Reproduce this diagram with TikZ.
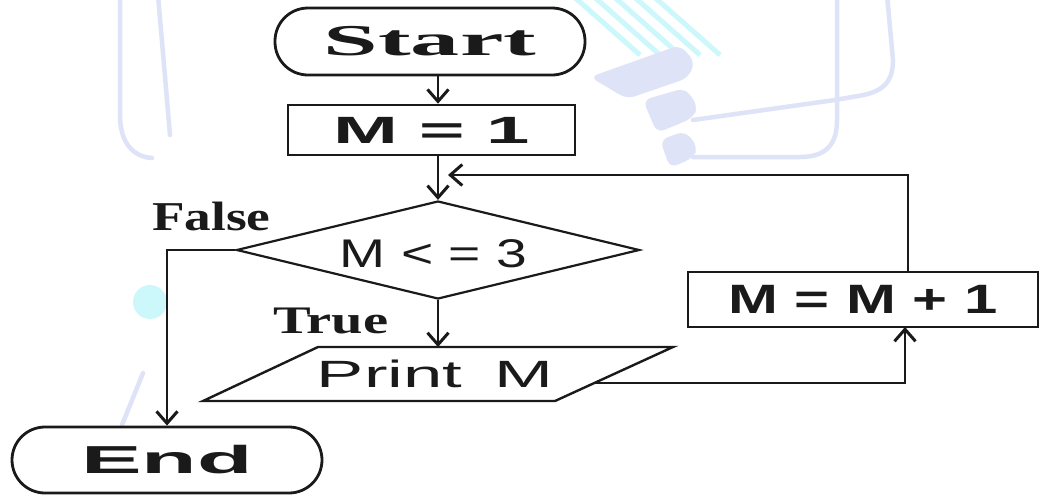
\documentclass[tikz,border=0pt]{standalone}
\usepackage{graphicx}
\usepackage{fontspec}
\setmainfont{Liberation Serif}
\setsansfont{Liberation Sans}
\usetikzlibrary{arrows.meta,shapes.geometric}
\definecolor{ink}{HTML}{1A1A1A}
\definecolor{lav}{HTML}{DFE3F7}
\definecolor{cyn}{HTML}{CDF8FB}
\newcommand{\hs}[2]{\scalebox{#1}[1]{#2}}
\begin{document}
\begin{tikzpicture}[x=1pt,y=-1pt,
  line/.style={draw=ink, line width=2.6pt},
  arr/.style={draw=ink, line width=2.6pt, -{Straight Barb[length=12pt,width=21pt,line width=3pt]}},
  pill/.style={draw=ink, line width=2.8pt, rounded corners=33pt, inner sep=0pt, text=ink},
  box/.style={draw=ink, line width=2.6pt, inner sep=0pt, text=ink},
  lbl/.style={inner sep=0pt, text=ink},
  wm/.style={draw=lav, line width=4.5pt, line cap=round}
]
\useasboundingbox (0,0) rectangle (1041,496);
\fill[white] (0,0) rectangle (1041,496);
% faint watermark
\begin{scope}
\clip (0,0) rectangle (1041,496);
\draw[wm] (120,-5) -- (120,115) .. controls (120,145) and (135,157) .. (152,158);
\draw[wm] (158,-5) -- (170,135);
\draw[wm] (143,373) -- (122,425);
\fill[cyn] (150,302) circle (17pt);
\foreach \i in {0,1,2,3,4} {
  \draw[draw=cyn, line width=5pt] (572+\i*20,-5) -- (640+\i*20,55);
}
\fill[lav, rounded corners=8pt] (590,77) -- (680,45) -- (695,62) -- (688,78) -- (627,99) -- cycle;
\fill[lav, rounded corners=8pt] (643,100) -- (685,88) -- (698,106) -- (693,118) -- (657,133) -- cycle;
\fill[lav, rounded corners=8pt] (660,140) -- (685,131) -- (698,147) -- (693,158) -- (670,168) -- cycle;
\draw[wm] (693,157) -- (800,157) .. controls (830,157) and (837,140) .. (837,120) -- (837,-5);
\draw[wm] (693,120) -- (835,100) -- (858,96) .. controls (885,92) and (893,80) .. (893,60) -- (887,-5);
\end{scope}
% shapes
\node[pill, minimum width=310pt, minimum height=67pt] (start) at (430,41.5)
  {\bfseries\fontsize{44}{44}\selectfont\hs{2.23}{Start}};
\node[box, minimum width=287pt, minimum height=50pt] (m1) at (431.5,130)
  {\sffamily\bfseries\fontsize{38}{38}\selectfont\hs{2.05}{M = 1}};
\node[diamond, draw=ink, line width=2.2pt, minimum width=403pt, minimum height=98pt, inner sep=0pt] (cond) at (438,250) {};
\node[lbl, anchor=base] (condtext) at (433.5,267)
  {\sffamily\fontsize{40}{40}\selectfont\hs{1.38}{M < = 3}};
\coordinate (ptl) at (318,347);
\coordinate (ptr) at (673,347);
\coordinate (pbr) at (555,401);
\coordinate (pbl) at (203,401);
\draw[line, line width=2.4pt] (ptl) -- (ptr) -- (pbr) -- (pbl) -- cycle;
\node[lbl, anchor=base] (printtext) at (435,387)
  {\sffamily\fontsize{38}{38}\selectfont\hs{1.86}{Print\hspace{0.45em}M}};
\coordinate (ptop) at (438,347);
\coordinate (pright) at (594,383);
\node[box, minimum width=350pt, minimum height=55pt] (inc) at (863,299.5)
  {\sffamily\bfseries\fontsize{41}{41}\selectfont\hs{1.46}{M = M + 1}};
\node[pill, minimum width=310pt, minimum height=66pt] (end) at (167,460)
  {\sffamily\bfseries\fontsize{39}{39}\selectfont\hs{2.33}{End}};
% labels
\node[lbl, anchor=base west] (false) at (152,230)
  {\bfseries\fontsize{41}{41}\selectfont\hs{1.3}{False}};
\node[lbl, anchor=base west] (true) at (273,333)
  {\bfseries\fontsize{39}{39}\selectfont\hs{1.45}{True}};
% connectors
\coordinate (loopR) at (908,175);
\coordinate (loopL) at (448,175);
\coordinate (incin) at (905,327);
\draw[arr] (start.south -| cond.north) -- (m1.north -| cond.north);
\draw[arr] (m1.south -| cond.north) -- (cond.north);
\draw[arr] (inc.north -| loopR) -- (loopR) -- (loopL);
\draw[arr] (cond.west) -| (end.north);
\draw[arr] (cond.south) -- (ptop);
\draw[arr] (pright) -| (incin);
\end{tikzpicture}
\end{document}
